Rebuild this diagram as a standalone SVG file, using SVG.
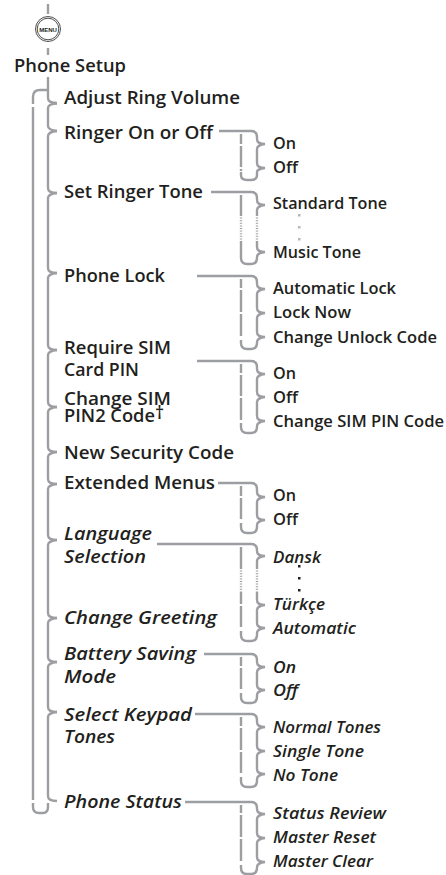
<svg xmlns="http://www.w3.org/2000/svg" width="446" height="875" viewBox="0 0 446 875">
<style>
text{font-family:"Open Sans","Noto Sans","Liberation Sans",sans-serif;font-weight:600;fill:#231f20;transform:translateY(0.700px)}
.m{font-size:17.800px}
.s{font-size:16.300px}
.i{font-style:italic}
.c path{fill:none;stroke:#9d9ea2;stroke-width:2.400}
.c path.d{stroke-dasharray:1 1.600}
.g{fill:#b5b6b8}.k{fill:#231f20}
</style>
<rect width="446" height="875" fill="#fff"/>
<g id="connectors" class="c">
<path d="M48 4V14M48 48V55M48 77V98Q48 103 57 103"/>
<path d="M47 90H40Q33 90 33 97V104M33 107V800M33 803V807Q33 813 39 813H43Q48 813 48 807V803"/>
<path d="M57 131Q48 130 48 126V108Q48 104 57 103.500"/>
<path d="M57 131Q48 132 48 136V188Q48 193 57 193"/>
<path d="M57 193Q48 194 48 198V268Q48 273 57 273"/>
<path d="M57 273Q48 274 48 278V345Q48 350 57 350"/>
<path d="M57 350Q48 351 48 355V402Q48 407 57 407"/>
<path d="M57 407Q48 408 48 412V447Q48 452 57 452"/>
<path d="M57 452Q48 453 48 457V479Q48 484 57 484"/>
<path d="M57 484Q48 485 48 489V535Q48 540 57 540"/>
<path d="M57 540Q48 541 48 545V613Q48 618 57 618"/>
<path d="M57 618Q48 619 48 623V657Q48 662 57 662"/>
<path d="M57 662Q48 663 48 667V707Q48 712 57 712"/>
<path d="M57 712Q48 713 48 717V796Q48 801 57 801"/>
<path d="M219 131H251Q257 131 257 137V139Q257 144 265 144Q257 145 257 149V163Q257 168 265 168Q257 169 257 172M241 134V144M241 146V167M241 169V171M241 172V175Q241 180 247 180H251Q257 180 257 175V172"/>
<path d="M211 192H251Q257 192 257 198V200Q257 205 265 205Q257 206 257 210V215M257 242V247Q257 252 265 252Q257 253 257 257V258Q257 264 251 264H247Q241 264 241 258V242M241 195V215"/>
<path class="d" d="M241 215V242M257 215V242"/>
<path d="M197 276H251Q257 276 257 282V284Q257 289 265 289Q257 290 257 294V308Q257 313 265 313Q257 314 257 318V332Q257 337 265 337Q257 338 257 342V343Q257 349 251 349H247Q241 349 241 343V340M241 279V288M241 290V312M241 314V336"/>
<path d="M197 361H251Q257 361 257 367V369Q257 374 265 374Q257 375 257 379V392Q257 397 265 397Q257 398 257 402V416Q257 421 265 421Q257 422 257 426V427Q257 433 251 433H247Q241 433 241 427V423M241 364V373M241 375V396M241 398V420"/>
<path d="M218 483H251Q257 483 257 489V492Q257 497 265 497Q257 498 257 502V515Q257 520 265 520Q257 521 257 525V527Q257 533 251 533H247Q241 533 241 527V523M241 486V496M241 498V519"/>
<path d="M157 544H251Q257 544 257 550V551Q257 556 265 556Q257 557 257 561V568M257 592V600Q257 605 265 605Q257 606 257 610V623Q257 628 265 628Q257 629 257 633V635Q257 641 251 641H247Q241 641 241 635V631M241 547V568M241 592V604M241 606V627"/>
<path class="d" d="M241 568V592M257 568V592"/>
<path d="M204 654H251Q257 654 257 660V662Q257 667 265 667Q257 668 257 672V685Q257 690 265 690Q257 691 257 695V697Q257 703 251 703H247Q241 703 241 697V693M241 657V666M241 668V689"/>
<path d="M195 714H251Q257 714 257 720V722Q257 727 265 727Q257 728 257 732V746Q257 751 265 751Q257 752 257 756V769Q257 774 265 774Q257 775 257 779V781Q257 787 251 787H247Q241 787 241 781V777M241 717V726M241 728V750M241 752V773"/>
<path d="M185 802H251Q257 802 257 808V809Q257 814 265 814Q257 815 257 819V833Q257 838 265 838Q257 839 257 843V857Q257 862 265 862Q257 863 257 867V868Q257 874 251 874H247Q241 874 241 868V865M241 805V813M241 815V837M241 839V861"/>
</g>
<g id="menu-button">
<circle cx="48" cy="29" r="12.500" fill="#fff" stroke="#231f20" stroke-width="0.800"/>
<circle cx="48" cy="29" r="10.800" fill="none" stroke="#231f20" stroke-width="0.800"/>
<text x="48" y="31" text-anchor="middle" style="font-size:6px;font-weight:700;font-family:'Liberation Sans',sans-serif">MENU</text>
</g>
<g id="phone-setup"><text class="m" x="14" y="71" textLength="112" lengthAdjust="spacingAndGlyphs">Phone Setup</text></g>
<g id="adjust-ring-volume"><text class="m" x="64" y="103" textLength="176" lengthAdjust="spacingAndGlyphs">Adjust Ring Volume</text></g>
<g id="ringer-on-off"><text class="m" x="64" y="138" textLength="149" lengthAdjust="spacingAndGlyphs">Ringer On or Off</text><text class="s" x="273" y="148" textLength="23" lengthAdjust="spacingAndGlyphs">On</text><text class="s" x="273" y="172" textLength="25" lengthAdjust="spacingAndGlyphs">Off</text></g>
<g id="set-ringer-tone"><text class="m" x="64" y="197" textLength="139" lengthAdjust="spacingAndGlyphs">Set Ringer Tone</text><text class="s" x="273" y="208" textLength="114" lengthAdjust="spacingAndGlyphs">Standard Tone</text><text class="s" x="273" y="257" textLength="88" lengthAdjust="spacingAndGlyphs">Music Tone</text>
<rect class="g" x="298" y="214" width="2.500" height="2.500"/><rect class="g" x="298" y="226" width="2.500" height="2.500"/><rect class="g" x="298" y="238" width="2.500" height="2.500"/></g>
<g id="phone-lock"><text class="m" x="64" y="281" textLength="101" lengthAdjust="spacingAndGlyphs">Phone Lock</text><text class="s" x="273" y="293" textLength="123" lengthAdjust="spacingAndGlyphs">Automatic Lock</text><text class="s" x="273" y="317" textLength="78" lengthAdjust="spacingAndGlyphs">Lock Now</text><text class="s" x="273" y="342" textLength="164" lengthAdjust="spacingAndGlyphs">Change Unlock Code</text></g>
<g id="require-sim"><text class="m" x="64" y="353" textLength="107" lengthAdjust="spacingAndGlyphs">Require SIM</text><text class="m" x="64" y="375" textLength="75" lengthAdjust="spacingAndGlyphs">Card PIN</text><text class="s" x="273" y="378" textLength="23" lengthAdjust="spacingAndGlyphs">On</text><text class="s" x="273" y="402" textLength="25" lengthAdjust="spacingAndGlyphs">Off</text><text class="s" x="273" y="426" textLength="171" lengthAdjust="spacingAndGlyphs">Change SIM PIN Code</text></g>
<g id="change-sim"><text class="m" x="64" y="404" textLength="107" lengthAdjust="spacingAndGlyphs">Change SIM</text><text class="m" x="64" y="421" textLength="91" lengthAdjust="spacingAndGlyphs">PIN2 Code</text><text class="m" x="155" y="418">†</text></g>
<g id="new-security"><text class="m" x="64" y="458" textLength="170" lengthAdjust="spacingAndGlyphs">New Security Code</text></g>
<g id="extended-menus"><text class="m" x="64" y="488" textLength="151" lengthAdjust="spacingAndGlyphs">Extended Menus</text><text class="s" x="273" y="500" textLength="23" lengthAdjust="spacingAndGlyphs">On</text><text class="s" x="273" y="524" textLength="25" lengthAdjust="spacingAndGlyphs">Off</text></g>
<g id="language"><text class="m i" x="64" y="539" textLength="88" lengthAdjust="spacingAndGlyphs">Language</text><text class="m i" x="64" y="562" textLength="82" lengthAdjust="spacingAndGlyphs">Selection</text><text class="s i" x="273" y="562" textLength="48" lengthAdjust="spacingAndGlyphs">Dansk</text><text class="s i" x="273" y="609" textLength="52" lengthAdjust="spacingAndGlyphs">Türkçe</text><text class="s i" x="273" y="633" textLength="83" lengthAdjust="spacingAndGlyphs">Automatic</text>
<rect class="k" x="298" y="565" width="2.500" height="2.500"/><rect class="k" x="298" y="577" width="2.500" height="2.500"/><rect class="k" x="298" y="589" width="2.500" height="2.500"/></g>
<g id="change-greeting"><text class="m i" x="64" y="623" textLength="153" lengthAdjust="spacingAndGlyphs">Change Greeting</text></g>
<g id="battery"><text class="m i" x="64" y="659" textLength="132" lengthAdjust="spacingAndGlyphs">Battery Saving</text><text class="m i" x="64" y="682" textLength="52" lengthAdjust="spacingAndGlyphs">Mode</text><text class="s i" x="273" y="672" textLength="23" lengthAdjust="spacingAndGlyphs">On</text><text class="s i" x="273" y="695" textLength="25" lengthAdjust="spacingAndGlyphs">Off</text></g>
<g id="keypad"><text class="m i" x="64" y="720" textLength="128" lengthAdjust="spacingAndGlyphs">Select Keypad</text><text class="m i" x="64" y="742" textLength="51" lengthAdjust="spacingAndGlyphs">Tones</text><text class="s i" x="273" y="732" textLength="108" lengthAdjust="spacingAndGlyphs">Normal Tones</text><text class="s i" x="273" y="756" textLength="91" lengthAdjust="spacingAndGlyphs">Single Tone</text><text class="s i" x="273" y="780" textLength="65" lengthAdjust="spacingAndGlyphs">No Tone</text></g>
<g id="status"><text class="m i" x="64" y="807" textLength="118" lengthAdjust="spacingAndGlyphs">Phone Status</text><text class="s i" x="273" y="818" textLength="113" lengthAdjust="spacingAndGlyphs">Status Review</text><text class="s i" x="273" y="842" textLength="103" lengthAdjust="spacingAndGlyphs">Master Reset</text><text class="s i" x="273" y="866" textLength="100" lengthAdjust="spacingAndGlyphs">Master Clear</text></g>
</svg>
